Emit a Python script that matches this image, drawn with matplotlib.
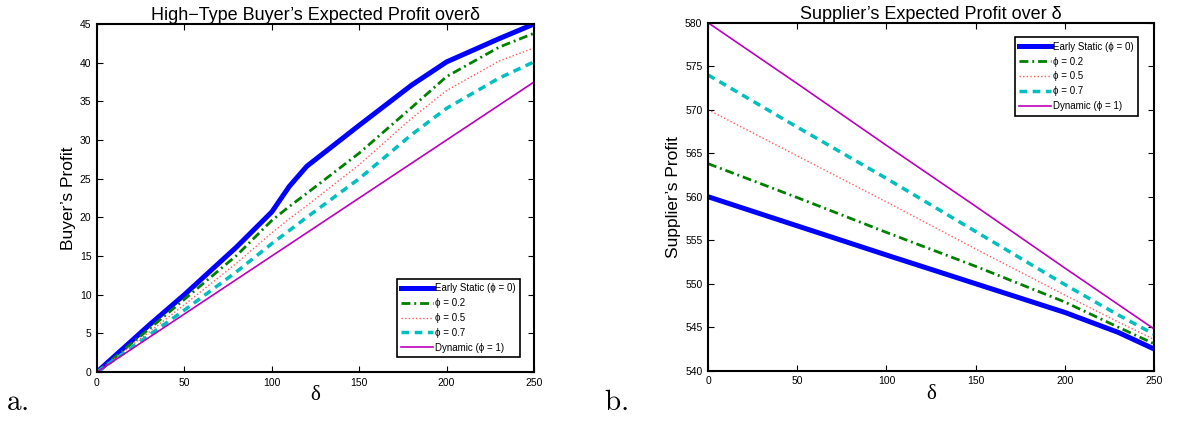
import matplotlib
matplotlib.use("Agg")
import matplotlib.pyplot as plt

# ---------------- data ----------------
delta_a = [0, 30, 50, 80, 100, 110, 120, 150, 180, 200, 230, 250]
buyer_static = [0, 6.1, 10.0, 16.2, 20.7, 24.0, 26.6, 31.9, 37.1, 40.1, 43.1, 45.0]
buyer_phi02 = [0, 5.6, 9.4, 15.1, 19.6, 21.4, 23.1, 28.3, 34.2, 38.2, 42.0, 43.8]
buyer_phi05 = [0, 5.2, 8.7, 14.1, 18.0, 19.8, 21.5, 26.8, 32.8, 36.4, 40.2, 41.9]
buyer_phi07 = [0, 4.8, 8.0, 13.0, 16.6, 18.3, 20.0, 25.0, 30.7, 34.1, 38.0, 40.1]
buyer_dynamic = [0, 4.5, 7.5, 12.0, 15.0, 16.5, 18.0, 22.5, 27.0, 30.0, 34.5, 37.5]

delta_b = [0, 50, 100, 150, 200, 230, 250]
supp_static = [560.0, 556.65, 553.3, 550.0, 546.7, 544.4, 542.5]
supp_phi02 = [563.8, 559.9, 555.9, 552.0, 547.9, 545.0, 543.1]
supp_phi05 = [570.0, 564.7, 559.4, 554.0, 548.7, 545.6, 543.6]
supp_phi07 = [574.0, 568.0, 562.1, 556.0, 549.9, 546.4, 544.2]
supp_dynamic = [580.0, 573.0, 565.9, 558.9, 551.8, 547.6, 544.8]

labels = ["Early Static (ϕ = 0)", "ϕ = 0.2", "ϕ = 0.5", "ϕ = 0.7", "Dynamic (ϕ = 1)"]
xticks = [0, 50, 100, 150, 200, 250]
yticks_a = [0, 5, 10, 15, 20, 25, 30, 35, 40, 45]
yticks_b = [540, 545, 550, 555, 560, 565, 570, 575, 580]

SANS = ["Liberation Sans", "DejaVu Sans"]
plt.rcParams["font.family"] = SANS
plt.rcParams["mathtext.fontset"] = "cm"

styles = [
    dict(color="#0000ff", linestyle="-", linewidth=3.6),
    dict(color="#008000", linestyle=(0, (3.2, 1.4, 0.7, 1.4)), linewidth=2.0),
    dict(color="#ff5a5a", linestyle=(0, (1.0, 1.6)), linewidth=1.0),
    dict(color="#00bfbf", linestyle=(0, (2.2, 1.6)), linewidth=2.5),
    dict(color="#bf00bf", linestyle="-", linewidth=1.2),
]

fig = plt.figure(figsize=(11.8, 4.28), dpi=100)
ax1 = fig.add_axes([97/1180, 56/428, 437/1180, 348/428])
ax2 = fig.add_axes([708/1180, 57.3/428, 446/1180, 348/428])


def style_axes(ax, yticks, ylim):
    ax.set_xlim(0, 250)
    ax.set_ylim(*ylim)
    ax.set_xticks(xticks)
    ax.set_yticks(yticks)
    ax.tick_params(direction="in", top=True, right=True, labelsize=7.5,
                   length=4, width=0.8, pad=4)
    for s in ax.spines.values():
        s.set_linewidth(1.5)


legend_kw = dict(borderaxespad=0, fontsize=7, handlelength=3.3, handletextpad=0.2,
                 labelspacing=0.5, fancybox=False, edgecolor="black", framealpha=1,
                 borderpad=0.45)

series_a = [buyer_static, buyer_phi02, buyer_phi05, buyer_phi07, buyer_dynamic]
for ys, st, lab in zip(series_a, styles, labels):
    ax1.plot(delta_a, ys, label=lab, **st)
style_axes(ax1, yticks_a, (0, 45))
ax1.set_title("High\u2212Type Buyer\u2019s Expected Profit overδ", fontsize=13, pad=3)
ax1.set_ylabel("Buyer\u2019s Profit", fontsize=12.5, labelpad=3)
ax1.set_xlabel("δ", fontsize=15, family=["Liberation Serif", "DejaVu Serif"], labelpad=-1)
leg1 = ax1.legend(loc="lower right", bbox_to_anchor=(0.968, 0.043), **legend_kw)
leg1.get_frame().set_linewidth(1.2)

series_b = [supp_static, supp_phi02, supp_phi05, supp_phi07, supp_dynamic]
for ys, st, lab in zip(series_b, styles, labels):
    ax2.plot(delta_b, ys, label=lab, **st)
style_axes(ax2, yticks_b, (540, 580))
ax2.set_title("Supplier\u2019s Expected Profit over δ", fontsize=13, pad=3)
ax2.set_ylabel("Supplier\u2019s Profit", fontsize=12.5, labelpad=3)
ax2.set_xlabel("δ", fontsize=15, family=["Liberation Serif", "DejaVu Serif"], labelpad=-1)
leg2 = ax2.legend(loc="upper right", bbox_to_anchor=(0.965, 0.958), **legend_kw)
leg2.get_frame().set_linewidth(1.2)

fig.text(6/1180, 1 - 410/428, r"$\mathrm{a.}$", fontsize=21, va="baseline", ha="left")
fig.text(604/1180, 1 - 410/428, r"$\mathrm{b.}$", fontsize=21, va="baseline", ha="left")

fig.savefig("out.png", dpi=100)
